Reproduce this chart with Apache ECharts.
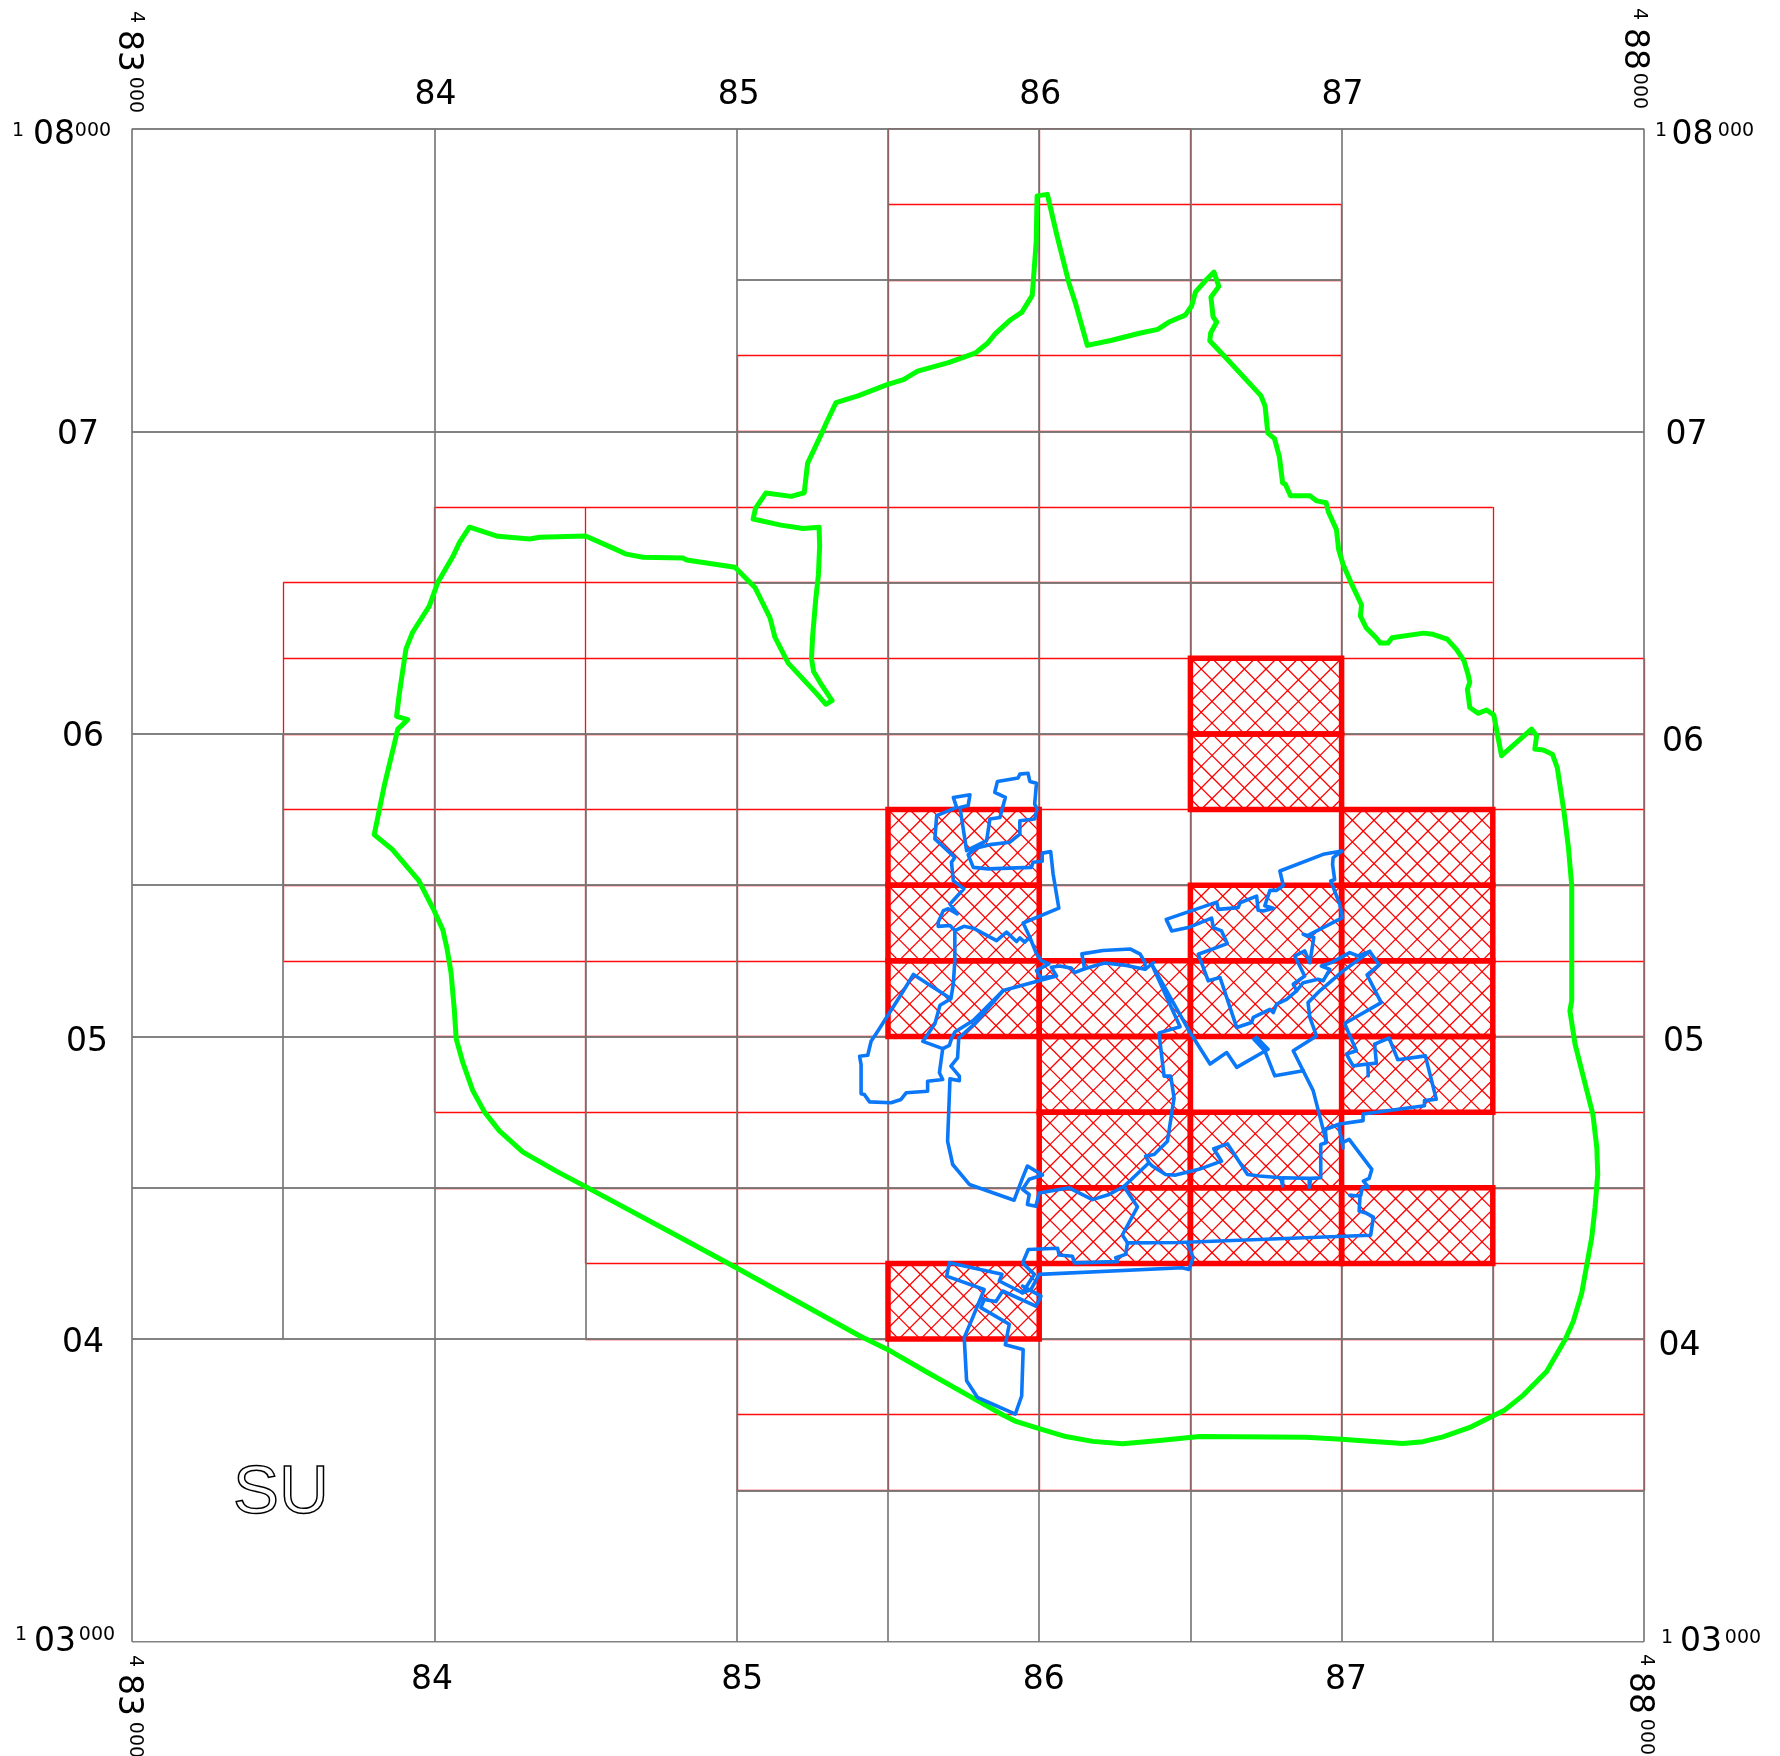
<!DOCTYPE html>
<html><head><meta charset="utf-8">
<style>html,body{margin:0;padding:0;background:#fff}#c{width:1780px;height:1756px}</style>
<script src="https://cdn.jsdelivr.net/npm/echarts@6/dist/echarts.min.js"></script></head>
<body><div id="c"></div><script>
// tick labels (km grid)
const eastTicks=[84,85,86,87];
const northTicks=[104,105,106,107];
// grid lines: [fixed, from, to] in km
const greyH=[[108,83,88],[107.5,85,87],[107,83,88],[106.5,85,87],[106,83,88],[105.5,83,88],[105,83,88],[104.5,83,88],[104,83,88],[103.5,85,88],[103,83,88]];
const greyV=[[83,103,108],[83.5,104,106],[84,103,108],[84.5,104,106],[85,103,108],[85.5,103,108],[86,103,108],[86.5,103,108],[87,103,108],[87.5,103,106],[88,103,108]];
const redH=[[108,85.5,86.5],[107.75,85.5,87],[107.5,85.5,87],[107.25,85,87],[107,85,87],[106.75,84,87.5],[106.5,83.5,87.5],[106.25,83.5,88],[106,83.5,88],[105.75,83.5,88],[105.5,83.5,88],[105.25,83.5,88],[105,84,88],[104.75,84,88],[104.5,84,88],[104.25,84.5,88],[104,84.5,88],[103.75,85,88],[103.5,85,88]];
const redV=[[83.5,105.25,106.5],[84,104.75,106.75],[84.5,104.25,106.75],[85,103.5,107.25],[85.5,103.5,108],[86,103.5,108],[86.5,103.5,108],[87,103.5,107.75],[87.5,103.5,106.75],[88,103.5,106.25]];
// hatched sheets: [west, south] in km
const hatched=[[86.5,106],[86.5,105.75],[87,105.5],[87,105.25],[87,105],[87,104.75],[85.5,105.5],[85.5,105.25],[85.5,105],[86,105],[86,104.75],[86,104.5],[86,104.25],[86.5,105.25],[86.5,105],[86.5,104.5],[86.5,104.25],[87,104.25],[85.5,104]];
// green boundary
const greenBoundary=[[85.315,106.110],[85.281,106.161],[85.254,106.206],[85.247,106.249],[85.251,106.326],[85.261,106.444],[85.270,106.527],[85.274,106.622],[85.272,106.683],[85.220,106.679],[85.146,106.690],[85.054,106.710],[85.062,106.746],[85.096,106.796],[85.180,106.785],[85.223,106.797],[85.234,106.894],[85.281,106.994],[85.297,107.030],[85.328,107.095],[85.403,107.118],[85.497,107.154],[85.551,107.171],[85.598,107.199],[85.700,107.227],[85.788,107.258],[85.828,107.290],[85.855,107.323],[85.902,107.366],[85.943,107.394],[85.977,107.449],[85.984,107.544],[85.990,107.626],[85.993,107.778],[86.027,107.783],[86.058,107.650],[86.098,107.491],[86.121,107.420],[86.159,107.284],[86.240,107.301],[86.335,107.325],[86.392,107.337],[86.429,107.361],[86.483,107.384],[86.504,107.414],[86.517,107.461],[86.551,107.499],[86.578,107.526],[86.594,107.479],[86.568,107.443],[86.575,107.378],[86.587,107.361],[86.567,107.325],[86.564,107.299],[86.618,107.242],[86.733,107.118],[86.747,107.083],[86.756,106.994],[86.778,106.976],[86.794,106.917],[86.805,106.829],[86.814,106.825],[86.831,106.787],[86.895,106.787],[86.918,106.770],[86.949,106.764],[86.956,106.734],[86.983,106.675],[86.990,106.610],[87.005,106.560],[87.031,106.5],[87.066,106.426],[87.062,106.390],[87.081,106.351],[87.114,106.318],[87.128,106.300],[87.153,106.300],[87.167,106.318],[87.271,106.333],[87.302,106.329],[87.349,106.313],[87.379,106.280],[87.405,106.241],[87.418,106.197],[87.424,106.170],[87.416,106.148],[87.424,106.087],[87.451,106.068],[87.479,106.079],[87.503,106.063],[87.529,105.928],[87.628,106.016],[87.645,105.994],[87.639,105.950],[87.667,105.947],[87.697,105.933],[87.713,105.889],[87.735,105.746],[87.750,105.625],[87.761,105.499],[87.761,105.118],[87.755,105.085],[87.772,104.975],[87.800,104.864],[87.831,104.743],[87.844,104.632],[87.847,104.544],[87.838,104.434],[87.827,104.334],[87.811,104.246],[87.794,104.152],[87.766,104.058],[87.739,103.998],[87.678,103.893],[87.601,103.815],[87.540,103.766],[87.5,103.746],[87.424,103.708],[87.335,103.677],[87.269,103.661],[87.202,103.655],[87.081,103.663],[87,103.669],[86.882,103.676],[86.530,103.678],[86.397,103.665],[86.276,103.654],[86.177,103.662],[86.088,103.678],[86.0,103.704],[85.923,103.728],[85.879,103.750],[85.790,103.800],[85.625,103.893],[85.5,103.965],[85.404,104.012],[85,104.235],[84.778,104.355],[84.5,104.504],[84.403,104.555],[84.293,104.618],[84.215,104.688],[84.166,104.750],[84.127,104.821],[84.094,104.914],[84.072,104.993],[84.066,105.086],[84.055,105.211],[84.042,105.289],[84.028,105.352],[84.0,105.414],[83.948,105.516],[83.862,105.617],[83.801,105.667],[83.834,105.828],[83.868,105.969],[83.879,106.016],[83.912,106.047],[83.875,106.058],[83.884,106.133],[83.906,106.281],[83.928,106.336],[83.983,106.422],[84.011,106.5],[84.061,106.586],[84.083,106.633],[84.116,106.683],[84.210,106.653],[84.315,106.644],[84.348,106.650],[84.5,106.654],[84.591,106.614],[84.635,106.594],[84.690,106.584],[84.822,106.581],[84.834,106.575],[84.994,106.551],[85.060,106.484],[85.110,106.383],[85.126,106.320],[85.170,106.234],[85.264,106.133],[85.294,106.098],[85.315,106.110]];
// blue outlines
const blueNorth=[[85.721,105.350],[85.705,105.367],[85.666,105.364],[85.666,105.378],[85.683,105.416],[85.699,105.422],[85.729,105.405],[85.705,105.438],[85.751,105.488],[85.716,105.515],[85.710,105.576],[85.721,105.592],[85.655,105.653],[85.661,105.730],[85.727,105.757],[85.716,105.790],[85.771,105.799],[85.765,105.763],[85.738,105.757],[85.760,105.614],[85.826,105.647],[85.837,105.719],[85.870,105.724],[85.888,105.790],[85.853,105.807],[85.862,105.843],[85.930,105.854],[85.936,105.867],[85.963,105.870],[85.969,105.843],[85.991,105.837],[85.985,105.768],[85.993,105.752],[85.985,105.719],[85.936,105.713],[85.936,105.669],[85.903,105.642],[85.837,105.634],[85.793,105.623],[85.765,105.601],[85.782,105.559],[85.831,105.554],[85.974,105.559],[85.980,105.576],[86.010,105.579],[86.010,105.606],[86.038,105.611],[86.046,105.537],[86.065,105.424],[85.947,105.375],[85.969,105.328],[85.991,105.273],[86.007,105.251],[86.032,105.240],[85.991,105.218],[86.005,105.194],[86.057,105.200],[86.040,105.229],[86.068,105.233],[86.106,105.226],[86.117,105.211],[86.150,105.224],[86.216,105.243],[86.288,105.235],[86.350,105.222],[86.378,105.244]];
const blueLobe=[[86.150,105.224],[86.141,105.273],[86.211,105.284],[86.302,105.289],[86.334,105.272],[86.350,105.244],[86.350,105.222]];
const blueRidge=[[85.721,105.350],[85.751,105.364],[85.782,105.358],[85.859,105.317],[85.892,105.345],[85.925,105.314],[85.936,105.326],[85.952,105.312],[85.969,105.328]];
const blueWest=[[85.721,105.350],[85.721,105.251],[85.716,105.174],[85.708,105.125],[85.672,105.103],[85.655,105.042],[85.622,104.993],[85.615,104.984],[85.681,104.960],[85.670,104.880],[85.681,104.858],[85.631,104.852],[85.631,104.819],[85.560,104.814],[85.543,104.792],[85.510,104.781],[85.439,104.784],[85.422,104.808],[85.411,104.811],[85.411,104.907],[85.406,104.935],[85.433,104.938],[85.444,104.984],[85.466,105.017],[85.545,105.141],[85.584,105.205],[85.708,105.125]];
const blueDiagonal=[[85.681,104.960],[85.703,104.971],[85.710,104.993],[85.721,105.015],[85.782,105.053],[85.881,105.152],[86.057,105.200]];
const blueMiddle=[[85.881,105.152],[85.790,105.045],[85.734,104.995],[85.730,104.929],[85.708,104.902],[85.736,104.869],[85.736,104.854],[85.705,104.860],[85.697,104.654],[85.714,104.577],[85.769,104.511],[85.917,104.459],[85.945,104.533],[85.961,104.572],[86.011,104.542],[85.967,104.528],[85.945,104.495],[85.967,104.478],[85.961,104.445],[85.989,104.439],[86.0,104.483],[86.099,104.5],[86.176,104.461],[86.231,104.478],[86.281,104.505],[86.363,104.583],[86.352,104.605],[86.380,104.610],[86.424,104.654],[86.446,104.797],[86.435,104.869],[86.413,104.869],[86.396,105.012],[86.466,105.032],[86.372,105.239],[86.378,105.244],[86.499,105.013],[86.565,104.909],[86.620,104.947],[86.653,104.898],[86.757,104.958],[86.719,104.997],[86.710,104.991],[86.746,104.953],[86.779,104.870],[86.873,104.887],[86.840,104.953],[86.917,105.002],[86.895,105.063],[86.889,105.112],[86.928,105.151],[87.005,105.217],[87.093,105.281],[87.124,105.237],[87.084,105.204],[87.131,105.112],[87.010,105.043],[87.049,104.953],[87.016,104.942],[87.038,104.903],[87.087,104.909],[87.088,104.870],[87.087,104.909],[87.115,104.912],[87.109,104.975],[87.157,104.995],[87.186,104.923],[87.277,104.936],[87.313,104.793],[87.274,104.788],[87.274,104.771],[87.071,104.744],[87.071,104.722],[86.994,104.711],[86.946,104.693]];
const blueEast=[[86.796,105.547],[86.939,105.602],[87.001,105.613],[86.972,105.591],[86.970,105.569],[86.977,105.519],[86.964,105.514],[86.994,105.437],[87.003,105.393],[86.884,105.332],[86.873,105.338],[86.908,105.327],[86.895,105.244],[86.878,105.283],[86.845,105.266],[86.878,105.200],[86.840,105.173],[86.851,105.151],[86.818,105.123],[86.785,105.107],[86.774,105.079],[86.763,105.090],[86.708,105.063],[86.702,105.046],[86.653,105.030],[86.598,105.195],[86.559,105.184],[86.526,105.272],[86.622,105.307],[86.603,105.349],[86.576,105.360],[86.570,105.391],[86.493,105.360],[86.438,105.349],[86.420,105.387],[86.587,105.444],[86.592,105.420],[86.658,105.426],[86.664,105.442],[86.719,105.464],[86.724,105.417],[86.741,105.415],[86.774,105.424],[86.746,105.432],[86.763,105.483],[86.785,105.483],[86.807,105.499],[86.796,105.547]];
const blueBranch=[[86.851,105.151],[86.873,105.178],[86.922,105.189],[86.939,105.184],[86.961,105.222],[86.933,105.233],[86.966,105.244],[87.027,105.277],[87.054,105.266],[87.093,105.281]];
const blueSouth=[[86.873,104.887],[86.906,104.821],[86.950,104.650],[86.946,104.693],[86.948,104.649],[86.931,104.643],[86.931,104.533],[86.898,104.531],[86.893,104.502],[86.893,104.531],[86.805,104.533],[86.805,104.506],[86.799,104.533],[86.728,104.539],[86.689,104.544],[86.623,104.645],[86.577,104.629],[86.603,104.588],[86.528,104.561],[86.451,104.542],[86.418,104.544],[86.374,104.572],[86.363,104.583]];
const blueBridge=[[86.281,104.505],[86.286,104.495],[86.325,104.437],[86.275,104.344],[86.292,104.318],[86.464,104.319],[87.096,104.343],[87.105,104.403],[87.080,104.417],[87.058,104.423],[87.061,104.473],[87.027,104.475],[87.063,104.473],[87.069,104.502],[87.089,104.502],[87.072,104.522],[87.091,104.531],[87.100,104.561],[87.025,104.660],[87.003,104.649],[87.005,104.632],[86.990,104.709],[86.946,104.693]];
const blueSouthWest=[[86.490,104.318],[86.509,104.269],[86.495,104.230],[86.473,104.236],[86.0,104.214],[85.973,104.164],[85.945,104.153],[85.984,104.214],[85.945,104.252],[85.964,104.296],[86.061,104.300],[86.066,104.278],[86.110,104.274],[86.116,104.252],[86.259,104.256],[86.253,104.269],[86.286,104.280],[86.292,104.318]];
const blueTail=[[85.945,104.153],[85.868,104.192],[85.877,104.214],[85.703,104.252],[85.694,104.208],[85.818,104.164],[85.780,104.071],[85.752,104.005],[85.760,103.862],[85.796,103.807],[85.921,103.752],[85.942,103.812],[85.947,103.966],[85.888,103.981],[85.901,104.049],[85.807,104.104],[85.818,104.131],[85.857,104.124],[85.879,104.159],[85.989,104.109],[86.006,104.142],[85.945,104.175]];
const blueParts=[blueNorth,blueLobe,blueRidge,blueWest,blueDiagonal,blueMiddle,blueEast,blueBranch,blueSouth,blueBridge,blueSouthWest,blueTail];

const SMALL=19,BIG=33,FONT='"DejaVu Sans"';
const GREY='#777777',RED='#ff0000',GREEN='#00ff00',BLUE='#0a78f8';

function segH(a){return a.map(s=>({coords:[[s[1],s[0]],[s[2],s[0]]]}));}
function segV(a){return a.map(s=>({coords:[[s[0],s[1]],[s[0],s[2]]]}));}
function lineSet(data,color,width,opacity,z){return {type:'lines',coordinateSystem:'cartesian2d',xAxisIndex:0,yAxisIndex:0,polyline:false,silent:true,z:z,data:data,lineStyle:{color:color,width:width,opacity:opacity,curveness:0},effect:{show:false}};}
function hatchItem(params,api){
  const p0=api.coord([api.value(0),api.value(1)+0.25]),p1=api.coord([api.value(0)+0.5,api.value(1)]);
  const w=p1[0]-p0[0],h=p1[1]-p0[1],step=w/7,ch=[];
  const hs={stroke:RED,lineWidth:1.3};
  for(let k=-8;k<=14;k++){const c=k*step;
    let u0=Math.max(0,c-h),u1=Math.min(w,c);
    if(u1>u0)ch.push({type:'line',shape:{x1:p0[0]+u0,y1:p0[1]+c-u0,x2:p0[0]+u1,y2:p0[1]+c-u1},style:hs});
    u0=Math.max(0,c);u1=Math.min(w,c+h);
    if(u1>u0)ch.push({type:'line',shape:{x1:p0[0]+u0,y1:p0[1]+u0-c,x2:p0[0]+u1,y2:p0[1]+u1-c},style:hs});
  }
  ch.push({type:'rect',shape:{x:p0[0],y:p0[1],width:w,height:h},style:{fill:null,stroke:RED,lineWidth:5.5}});
  return {type:'group',children:ch};
}
function polyline(data,color,width,z){return {type:'line',data:data,xAxisIndex:0,yAxisIndex:0,showSymbol:false,symbol:'none',silent:true,clip:false,z:z,lineStyle:{color:color,width:width,join:'round',cap:'round'}};}
function txt(x,y,s,size,rot){return {type:'text',x:x,y:y,rotation:rot?-Math.PI/2:0,style:{text:s,font:size+'px '+FONT,fill:'#000',align:'center',verticalAlign:'middle'}};}
// label nudges in px: [top,right,bottom,left]
const leftPad={104:[8,6,0,0],105:[12,2,0,0],106:[8,6,0,0],107:[8,11,0,0]};
const rightPad={104:[15,0,0,0.5],105:[12,0,0,5],106:[17,0,0,4],107:[8,0,0,7.5]};
const topPad={84:[0,0,0,2],85:[0,0,0,4],86:[0,0,0,2],87:[0,0,0,2]};
const bottomPad={84:[0,5,0,0],85:[0,0,0,11],86:[0,0,0,9],87:[0,0,0,9]};
function richAxis(table){const r={};for(const k in table)r['t'+k]={padding:table[k],fontSize:BIG,fontFamily:'DejaVu Sans',color:'#000'};return r;}
function fmt(list){return v=>list.includes(v)?'{t'+v+'|'+String(v).slice(-2)+'}':'';}

const option={
  animation:false,backgroundColor:'#fff',
  grid:{left:132,right:136,top:128.7,bottom:114.3,containLabel:false},
  xAxis:[
    {type:'value',position:'bottom',min:83,max:88,interval:1,axisLine:{show:false},axisTick:{show:false},splitLine:{show:false},
     axisLabel:{margin:22,formatter:fmt(eastTicks),rich:richAxis(bottomPad),showMinLabel:false,showMaxLabel:false}},
    {type:'value',position:'top',min:83,max:88,interval:1,axisLine:{show:false},axisTick:{show:false},splitLine:{show:false},
     axisLabel:{margin:16.5,formatter:fmt(eastTicks),rich:richAxis(topPad),showMinLabel:false,showMaxLabel:false}}
  ],
  yAxis:[
    {type:'value',position:'left',min:103,max:108,interval:1,axisLine:{show:false},axisTick:{show:false},splitLine:{show:false},
     axisLabel:{margin:22,align:'right',formatter:fmt(northTicks),rich:richAxis(leftPad)}},
    {type:'value',position:'right',min:103,max:108,interval:1,axisLine:{show:false},axisTick:{show:false},splitLine:{show:false},
     axisLabel:{margin:14,align:'left',formatter:fmt(northTicks),rich:richAxis(rightPad)}}
  ],
  series:[
    lineSet(segH(redH).concat(segV(redV)),RED,1.3,0.95,1),
    lineSet(segH(greyH).concat(segV(greyV)),GREY,1.8,0.92,2),
    {type:'custom',coordinateSystem:'cartesian2d',xAxisIndex:0,yAxisIndex:0,data:hatched,encode:{x:0,y:1},renderItem:hatchItem,silent:true,clip:false,z:3},
    polyline(greenBoundary,GREEN,5,4)
  ].concat(blueParts.map(p=>polyline(p,BLUE,3.6,5))),
  graphic:[
    txt(18,131.5,'1',SMALL),txt(54,135.5,'08',BIG),txt(93,131.5,'000',SMALL),
    txt(21,1635.5,'1',SMALL),txt(55,1642.5,'03',BIG),txt(97,1635.5,'000',SMALL),
    txt(1661,131,'1',SMALL),txt(1692.5,135.5,'08',BIG),txt(1736,131,'000',SMALL),
    txt(1667,1638,'1',SMALL),txt(1701,1642.5,'03',BIG),txt(1743,1638,'000',SMALL),
    txt(136,17,'4',SMALL,1),txt(127.5,51,'83',BIG,1),txt(135,95,'000',SMALL,1),
    txt(135,1661,'4',SMALL,1),txt(128,1695,'83',BIG,1),txt(135,1740,'000',SMALL,1),
    txt(1639,14,'4',SMALL,1),txt(1634,49,'88',BIG,1),txt(1639,91,'000',SMALL,1),
    txt(1646,1660,'4',SMALL,1),txt(1639,1693,'88',BIG,1),txt(1646,1737,'000',SMALL,1),
    {type:'text',x:281,y:1494,style:{text:'SU',font:'69px "Liberation Sans"',fill:'transparent',stroke:'#000',lineWidth:1.5,align:'center',verticalAlign:'middle'}}
  ]
};
const chart=echarts.init(document.getElementById('c'),null,{renderer:'canvas',width:1780,height:1756});
chart.setOption(option);
</script></body></html>
